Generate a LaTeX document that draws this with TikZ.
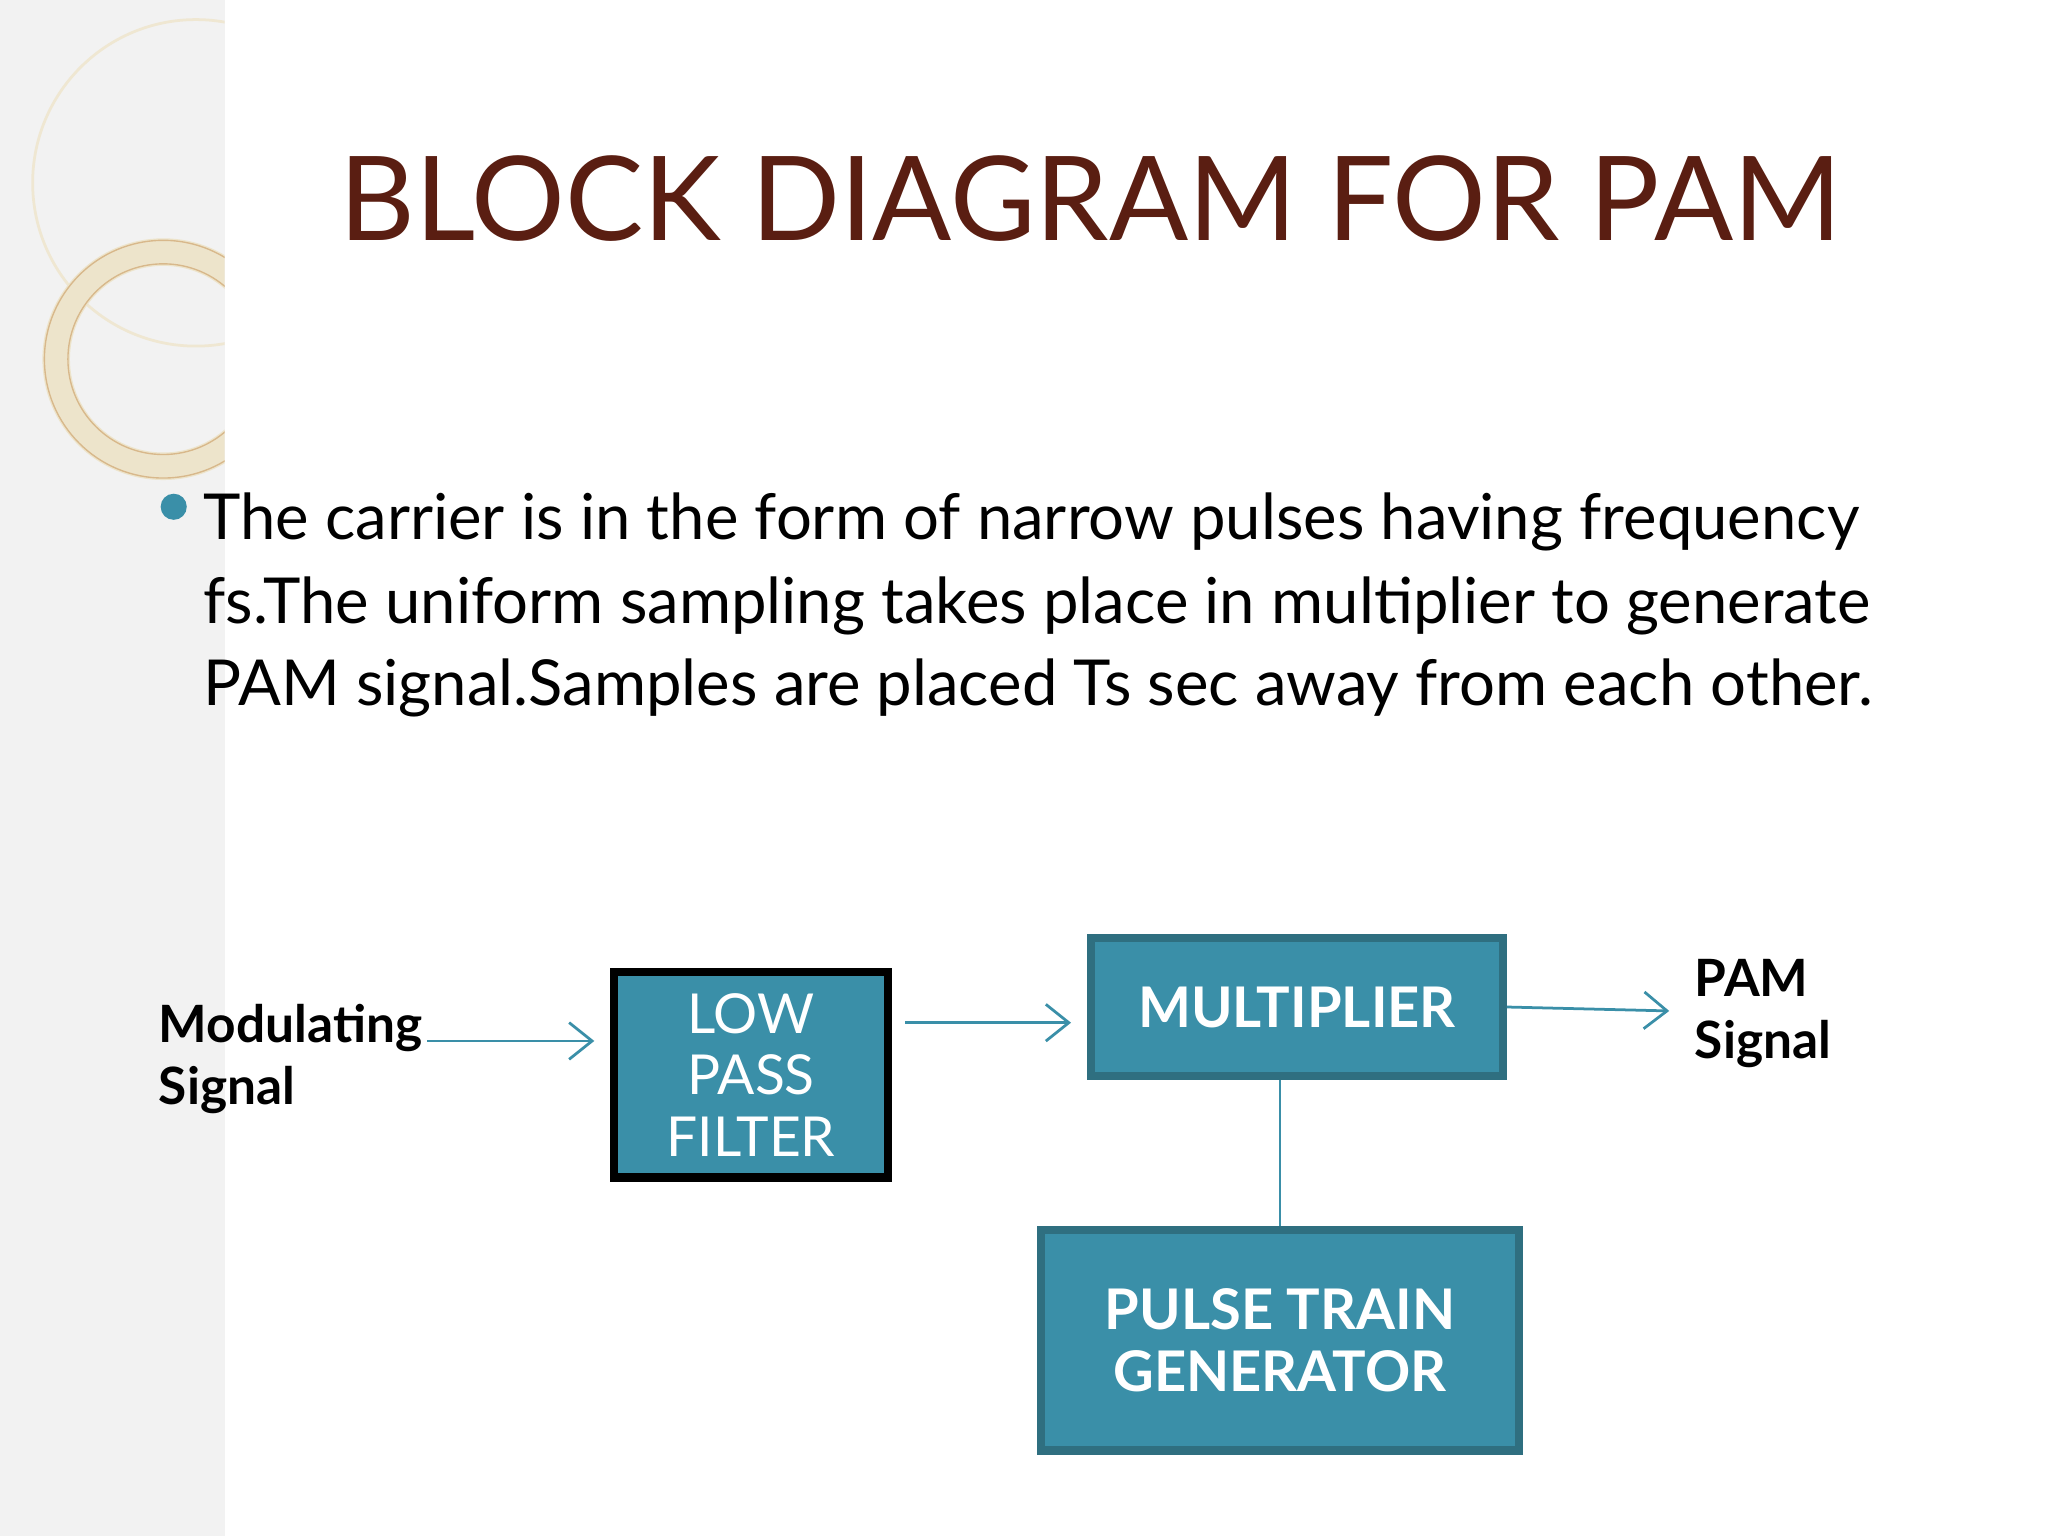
\documentclass[tikz,border=0pt]{standalone}
\usepackage{fontspec}
\setmainfont{Lato}
\usetikzlibrary{arrows.meta}
\definecolor{teal1}{HTML}{3A8FA8}
\definecolor{teal2}{HTML}{2F6F80}
\definecolor{brown1}{HTML}{5A1E12}
\definecolor{tan1}{HTML}{E8DDBE}
\tikzset{
  blk/.style={draw=teal2,line width=1.8pt,fill=teal1,text=white,align=center,inner sep=0pt},
  conn/.style={draw=teal1,line width=0.6pt,-{Straight Barb[length=5pt,width=8pt]}},
  lbl/.style={font=\fontsize{11.2}{13.6}\selectfont\bfseries,align=left,anchor=west,inner sep=0pt},
  body/.style={font=\fontsize{13.8}{17}\selectfont,anchor=base west,inner sep=0pt},
}
\begin{document}
\begin{tikzpicture}[x=0.01cm,y=-0.01cm]
\useasboundingbox (0,0) rectangle (1568,1176);
\fill[white] (0,0) rectangle (1568,1176);
\fill[gray!10] (0,0) rectangle (172,1176);
\begin{scope}
\clip (0,0) rectangle (172,1176);
\draw[tan1!70,line width=0.6pt] (150,140) circle (125);
\draw[tan1!80,line width=6pt] (125,275) circle (82);
\draw[tan1!60!brown,line width=0.3pt] (125,275) circle (73);
\draw[tan1!60!brown,line width=0.3pt] (125,275) circle (91);
\end{scope}
\node[text=brown1,font=\fontsize{25.5}{30}\selectfont] (title) at (835,152) {BLOCK DIAGRAM FOR PAM};
\fill[teal1] (133,388) circle (10);
\node[body] (l1) at (155,413) {The carrier is in the form of narrow pulses having frequency};
\node[body] (l2) at (155,477) {fs.The uniform sampling takes place in multiplier to generate};
\node[body] (l3) at (155,540) {PAM signal.Samples are placed Ts sec away from each other.};
\node[blk,draw=black,minimum width=2.1cm,minimum height=1.57cm,font=\fontsize{12}{13.4}\selectfont] (lpf) at (575,823) {LOW\\PASS\\FILTER};
\node[blk,minimum width=3.15cm,minimum height=1.06cm,font=\fontsize{12.2}{15}\selectfont\bfseries] (mul) at (993,771) {MULTIPLIER};
\node[blk,minimum width=3.66cm,minimum height=1.69cm,font=\fontsize{12.2}{13.4}\selectfont\bfseries] (ptg) at (980,1026) {PULSE TRAIN\\GENERATOR};
\node[lbl] (mod) at (121,811) {Modulating\\Signal};
\node[lbl] (pam) at (1297,776) {PAM\\Signal};
\coordinate (m1) at (327,797); \coordinate (m2) at (455,797);
\coordinate (a1) at (693,783); \coordinate (a2) at (820,783);
\coordinate (p2) at (1278,774);
\draw[conn] (m1) -- (m2);
\draw[conn] (a1) -- (a2);
\draw[conn] (mul.east) -- (p2);
\draw[draw=teal1,line width=0.6pt] (mul.south -| ptg.north) -- (ptg.north);
\end{tikzpicture}
\end{document}
